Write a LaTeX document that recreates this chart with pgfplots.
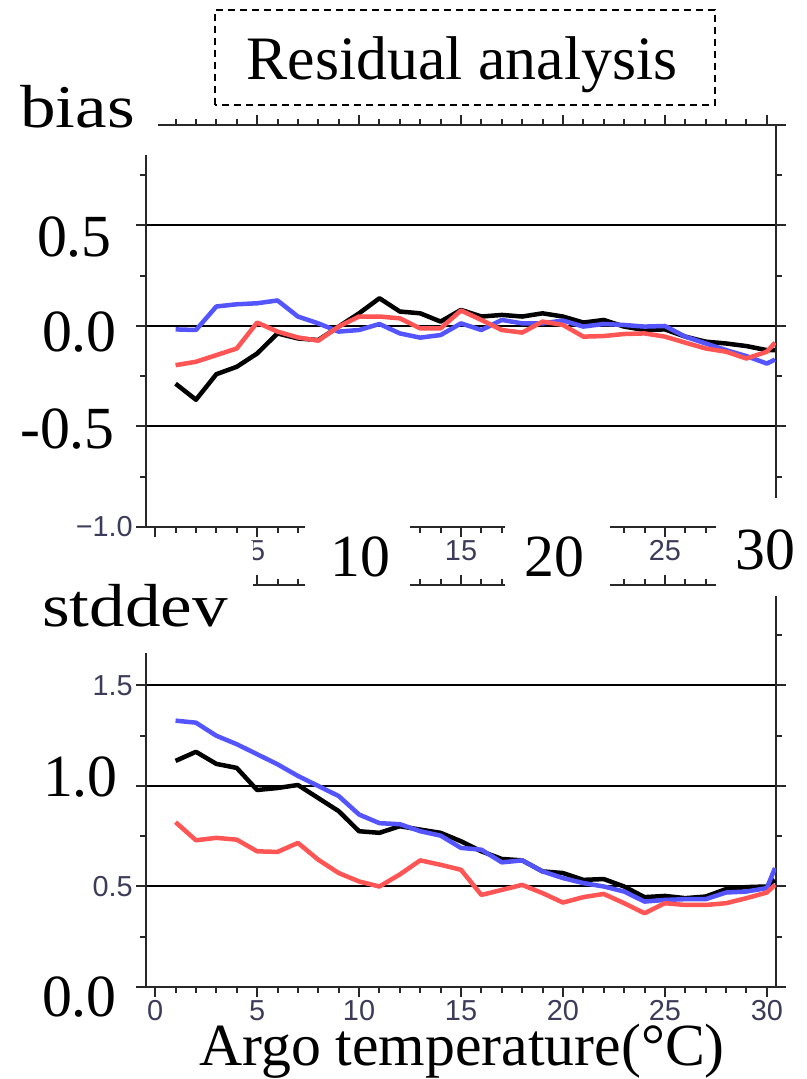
\documentclass[border=0pt]{standalone}
\usepackage{pgfplots}
\usepackage{pgfplotstable}
\pgfplotsset{compat=1.18}
\usepackage{fontspec}
\setmainfont{Liberation Serif}
\newfontfamily\sans{Liberation Sans}

\definecolor{lblue}{RGB}{85,85,255}
\definecolor{lred}{RGB}{255,85,85}
\definecolor{tick}{RGB}{60,60,90}
\definecolor{axgray}{RGB}{40,40,40}

% temperature, black, blue, red
\pgfplotstableread{
x     k      b      r
1    -0.287 -0.017 -0.195
2    -0.367 -0.020 -0.178
3    -0.240  0.097 -0.145
4    -0.203  0.108 -0.112
5    -0.137  0.113  0.017
6    -0.037  0.127 -0.028
7    -0.062  0.047 -0.057
8    -0.070  0.013 -0.073
9    -0.003 -0.028 -0.003
10    0.063 -0.020  0.047
11    0.138  0.010  0.047
12    0.072 -0.037  0.038
13    0.063 -0.058 -0.012
14    0.022 -0.045 -0.012
15    0.080  0.013  0.077
16    0.047 -0.020  0.030
17    0.055  0.030 -0.020
18    0.047  0.013 -0.033
19    0.063  0.013  0.022
20    0.047  0.027  0.005
21    0.017 -0.003 -0.053
22    0.030  0.010 -0.050
23   -0.003  0.005 -0.040
24   -0.020 -0.003 -0.037
25   -0.017  0.000 -0.053
26   -0.053 -0.053 -0.083
27   -0.078 -0.087 -0.112
28   -0.087 -0.120 -0.128
29   -0.100 -0.150 -0.162
30   -0.120 -0.187 -0.128
30.4 -0.120 -0.167 -0.083
}\biastab

\pgfplotstableread{
x     k      b      r
1     1.125  1.325  0.820
2     1.170  1.315  0.730
3     1.110  1.250  0.742
4     1.090  1.208  0.733
5     0.980  1.158  0.675
6     0.990  1.108  0.672
7     1.005  1.050  0.717
8     0.940  1.000  0.633
9     0.875  0.950  0.567
10    0.775  0.858  0.525
11    0.767  0.815  0.500
12    0.800  0.810  0.560
13    0.783  0.775  0.630
14    0.767  0.753  0.608
15    0.725  0.692  0.583
16    0.675  0.683  0.458
17    0.637  0.620  0.483
18    0.630  0.630  0.508
19    0.575  0.575  0.467
20    0.567  0.542  0.420
21    0.533  0.517  0.447
22    0.537  0.500  0.463
23    0.500  0.475  0.417
24    0.447  0.425  0.367
25    0.453  0.433  0.417
26    0.442  0.437  0.408
27    0.450  0.437  0.408
28    0.487  0.470  0.417
29    0.497  0.475  0.442
30    0.500  0.492  0.470
30.4  0.533  0.592  0.508
}\sdtab

\pgfplotsset{
  panel/.style={
    scale only axis,
    width=630bp, height=402bp,
    xmin=-0.45, xmax=30.45,
    xtick={0,5,...,30},
    minor x tick num=4,
    minor y tick num=1,
    tick align=outside,
    major tick length=10bp,
    minor tick length=6bp,
    axis line style={axgray, line width=2.5bp},
    every tick/.style={axgray, line width=2bp},
    ymajorgrids=true,
    major grid style={black, line width=2bp},
    ticklabel style={font=\sans\fontsize{29}{31}\selectfont, text=tick, inner sep=0pt},
    xticklabel style={yshift=-3bp},
    yticklabel style={xshift=-3bp},
    every axis plot/.append style={line width=4.5bp, line join=round},
  },
}

\newcommand{\biglab}[1]{\fontsize{60}{64}\selectfont #1}

\begin{document}
\begin{tikzpicture}[x=1bp,y=1bp]

% bias panel
\begin{axis}[panel, at={(146bp,552bp)}, anchor=south west,
  xticklabels={,5,,15,,25,},
  ymin=-1, ymax=1, ytick={-1,-0.5,0,0.5,1},
  yticklabels={\textminus1.0,,,,}]
\addplot[black] table[x=x,y=k] {\biastab};
\addplot[lblue] table[x=x,y=b] {\biastab};
\addplot[lred] table[x=x,y=r] {\biastab};
\end{axis}

% stddev panel
\begin{axis}[panel, at={(146bp,92bp)}, anchor=south west,
  xticklabels={0,5,10,15,20,25,30},
  ymin=0, ymax=2, ytick={0,0.5,1,1.5,2},
  yticklabels={,0.5,,1.5,}]
\addplot[black] table[x=x,y=k] {\sdtab};
\addplot[lblue] table[x=x,y=b] {\sdtab};
\addplot[lred] table[x=x,y=r] {\sdtab};
\end{axis}

% pasted label boxes
\fill[white] (0,924) rectangle (158,1079);
\fill[white] (0,426) rectangle (253,538);
\fill[white] (305,487) rectangle (410,556);
\fill[white] (505,487) rectangle (610,556);
\fill[white] (716,483) rectangle (807,581);

\draw[black, line width=1.5bp, dash pattern=on 7bp off 5bp, fill=white]
  (215,974) rectangle (715,1069);
\node[anchor=base, inner sep=0pt] at (462,999) {\fontsize{62}{66}\selectfont Residual analysis};

\node[anchor=base west, inner sep=0pt, xscale=1.17] at (20,951) {\fontsize{61}{64}\selectfont bias};
\node[anchor=base west, inner sep=0pt, xscale=1.17] at (42,452) {\fontsize{61}{64}\selectfont stddev};

\node[anchor=east, inner sep=0pt] at (112,842) {\biglab{0.5}};
\node[anchor=east, inner sep=0pt] at (117,747) {\biglab{0.0}};
\node[anchor=east, inner sep=0pt] at (115,650) {\biglab{-0.5}};
\node[anchor=east, inner sep=0pt] at (118,302) {\biglab{1.0}};
\node[anchor=east, inner sep=0pt] at (117,82) {\biglab{0.0}};

\node[inner sep=0pt] at (360,522) {\biglab{10}};
\node[inner sep=0pt] at (554,522) {\biglab{20}};
\node[inner sep=0pt] at (765,529) {\biglab{30}};

\node[anchor=base, inner sep=0pt] at (462,13) {\fontsize{60}{64}\selectfont Argo temperature(°C)};

\pgfresetboundingbox
\path[use as bounding box] (0,0) rectangle (807,1079);
\end{tikzpicture}
\end{document}
